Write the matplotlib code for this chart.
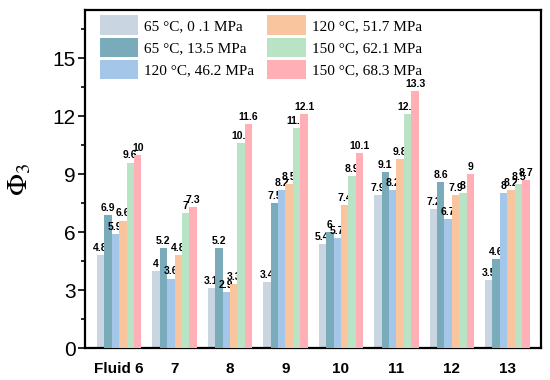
import matplotlib.pyplot as plt
import numpy as np

plt.rcParams['mathtext.fontset'] = 'stix'

# ---- Data ----
fluids = ['Fluid 6', '7', '8', '9', '10', '11', '12', '13']
conditions = ['65 °C, 0 .1 MPa', '65 °C, 13.5 MPa', '120 °C, 46.2 MPa',
              '120 °C, 51.7 MPa', '150 °C, 62.1 MPa', '150 °C, 68.3 MPa']
phi_65_01 = [4.8, 4, 3.1, 3.4, 5.4, 7.9, 7.2, 3.5]
phi_65_135 = [6.9, 5.2, 5.2, 7.5, 6, 9.1, 8.6, 4.6]
phi_120_462 = [5.9, 3.6, 2.9, 8.2, 5.7, 8.2, 6.7, 8]
phi_120_517 = [6.6, 4.8, 3.3, 8.5, 7.4, 9.8, 7.9, 8.2]
phi_150_621 = [9.6, 7, 10.6, 11.4, 8.9, 12.1, 8, 8.5]
phi_150_683 = [10, 7.3, 11.6, 12.1, 10.1, 13.3, 9, 8.7]
series = [phi_65_01, phi_65_135, phi_120_462, phi_120_517, phi_150_621, phi_150_683]
colors = ['#c9d5e1', '#7aabbb', '#a4c6e8', '#f8c59e', '#b9e3c5', '#ffafb5']

fig = plt.figure(figsize=(5.5, 3.8), dpi=100)
ax = fig.add_axes([0.155, 0.084, 0.829, 0.89])

x = np.arange(1, len(fluids) + 1)
w = 0.134
# later series are drawn over the labels of earlier ones, as in the original
for i, (vals, c, lab) in enumerate(zip(series, colors, conditions)):
    pos = x + (i - 2.5) * w
    bars = ax.bar(pos, vals, w, color=c, label=lab, zorder=2 + 2 * i)
    ax.bar_label(bars, labels=['%g' % v for v in vals], padding=1.5,
                 fontsize=7.5, fontweight='bold', family='Liberation Sans',
                 zorder=3 + 2 * i)

ax.set_xlim(0.39, 8.61)
ax.set_ylim(0, 17.5)
ax.set_yticks(np.arange(0, 16, 3))
ax.set_yticks(np.arange(1.5, 17, 3), minor=True)
ax.set_xticks(x)
ax.set_xticklabels(fluids, fontsize=11, fontweight='bold', family='Liberation Sans')
ax.tick_params(axis='x', length=0, pad=10)
ax.tick_params(axis='y', which='major', length=5, width=1.2, labelsize=15, pad=2)
ax.tick_params(axis='y', which='minor', length=3, width=1.2)
for lbl in ax.get_yticklabels():
    lbl.set_family('Liberation Sans')
for s in ax.spines.values():
    s.set_linewidth(1.6)

ax.set_ylabel(r'$\Phi_3$', fontsize=21, labelpad=14)

ax.legend(ncol=2, loc='upper left', bbox_to_anchor=(0.024, 0.995), frameon=False,
          prop={'family': 'Liberation Serif', 'size': 11},
          handlelength=2.5, handleheight=1.55, handletextpad=0.4,
          columnspacing=0.85, labelspacing=0.2, borderaxespad=0.0,
          borderpad=0.25)

fig.savefig('out.png', dpi=100)
